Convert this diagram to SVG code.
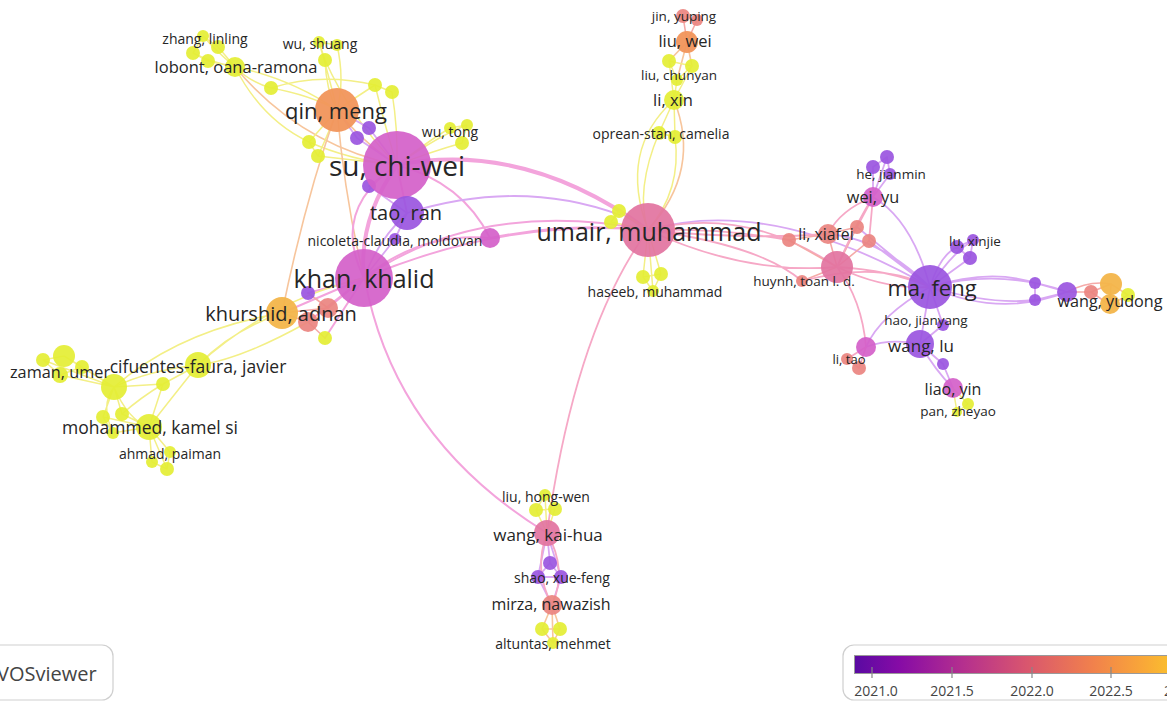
<svg xmlns="http://www.w3.org/2000/svg" width="1167" height="702" viewBox="0 0 1167 702">
<defs>
<style>
.e{fill:none;stroke-linecap:round}
.ey{stroke:#f3ef86;stroke-width:1.5}
.eo{stroke:#f7c59c;stroke-width:1.6}
.ep{stroke:#f3a4dc;stroke-width:2}
.ek{stroke:#f6a8c6;stroke-width:1.8}
.eu{stroke:#d9a8f3;stroke-width:1.8}
.es{stroke:#f5aaa8;stroke-width:1.6}
.th{stroke-width:4}
.Y{fill:#e4ee34;opacity:.92}
.P{fill:#9a55df;opacity:.92}
.M{fill:#d45fc9;opacity:.92}
.K{fill:#e2739f;opacity:.92}
.S{fill:#ea8480;opacity:.92}
.O{fill:#f1955b;opacity:.95}
.A{fill:#f3b54a;opacity:.95}
text{font-family:"Open Sans","Noto Sans","Liberation Sans",sans-serif;fill:#262626;text-anchor:middle;dominant-baseline:central}
.leg{fill:#fff;stroke:#cfcfcf;stroke-width:1.2}
.tick{stroke:#888;stroke-width:1.2}
.lt{font-size:14px;fill:#444}
</style>
<linearGradient id="plasma" x1="855" y1="0" x2="1195" y2="0" gradientUnits="userSpaceOnUse">
<stop offset="0" stop-color="#5a0aa2"/>
<stop offset="0.13" stop-color="#860ba6"/>
<stop offset="0.32" stop-color="#b5308e"/>
<stop offset="0.5" stop-color="#d8556f"/>
<stop offset="0.7" stop-color="#f1814c"/>
<stop offset="0.85" stop-color="#f9a838"/>
<stop offset="1" stop-color="#fbd425"/>
</linearGradient>
</defs>
<rect width="1167" height="702" fill="#fff"/>
<g id="connectors">
<!-- top-left yellow -->
<path class="e ey" d="M203,36 Q215,50 235,67 M193,53 Q210,62 235,67 M218,47 Q225,55 235,67 M208,61 L235,67 M203,36 L193,53 M203,36 L218,47 M193,53 L208,61"/>
<path class="e ey" d="M235,67 Q290,78 337,110 M235,67 Q250,82 271,88 M235,67 Q262,120 309,142 M271,88 Q320,72 375,85 M271,88 Q310,95 337,110"/>
<path class="e eo" d="M235,67 Q300,145 397,165"/>
<path class="e ey" d="M319,42 Q330,80 337,110 M337,45 Q345,80 337,110 M325,60 Q326,90 337,110 M325,60 Q352,120 397,165 M319,42 L337,45 M319,42 L325,60"/>
<path class="e ey" d="M375,85 Q358,96 337,110 M392,92 Q398,130 397,165 M375,85 Q386,130 397,165 M375,85 L392,92"/>
<path class="e ey" d="M450,128 Q430,140 397,165 M467,125 Q440,135 397,165 M462,143 Q430,152 397,165 M450,128 L467,125 M467,125 L462,143"/>
<path class="e ey" d="M309,142 L337,110 M318,156 Q330,130 337,110 M309,142 Q350,160 397,165 M318,156 L397,165 M309,142 L318,156"/>
<path class="e eo" d="M337,110 Q360,140 397,165 M337,110 Q305,200 282,313 M337,110 Q345,200 364,278"/>
<path class="e eu" d="M369,128 L397,165 M357,138 L397,165 M369,128 L337,110 M357,138 L337,110 M369,186 L397,165 M369,186 L407,213"/>
<path class="e ep th" d="M397,165 Q358,220 364,278"/>
<path class="e ep" d="M397,165 L407,213 M397,165 Q462,182 490,238 M364,278 Q420,232 490,238 M397,165 Q330,210 364,278"/>
<path class="e eu" d="M407,213 Q378,240 364,278 M407,213 Q520,178 620,215 M395,239 L407,213 M395,239 L364,278"/>
<path class="e ep th" d="M397,165 Q525,140 648,230"/>
<path class="e ep" d="M364,278 Q480,198 648,230 M364,278 Q505,218 648,230 M490,238 Q570,222 648,230"/>
<path class="e ep" d="M365,280 Q395,440 547,533"/>
<path class="e ek" d="M648,230 Q575,330 547,533"/>
<!-- khurshid area -->
<path class="e ep" d="M364,278 L282,313 M364,278 L328,308 M364,278 L308,322 M364,278 L308,293 M364,278 L325,338"/>
<path class="e es" d="M282,313 L328,308 M282,313 L308,322 M308,293 L328,308 M308,322 L325,338"/>
<path class="e ey" d="M364,278 Q270,300 198,365 M282,313 Q232,330 198,365 M282,313 Q180,330 114,387 M308,322 Q240,360 198,365"/>
<path class="e ey" d="M198,365 Q150,370 114,387 M198,365 L163,384 M163,384 L114,387 M163,384 L149,427 M198,365 Q170,400 149,427 M163,384 Q140,398 122,414"/>
<path class="e ey" d="M114,387 L64,356 M114,387 L43,360 M114,387 L82,367 M114,387 L60,375 M64,356 L43,360 M64,356 L82,367 M43,360 L60,375 M82,367 L60,375"/>
<path class="e ey" d="M114,387 Q128,420 149,427 M114,387 L103,417 M114,387 L122,414 M103,417 L149,427 M122,414 L149,427 M113,433 L149,427 M103,417 L113,433 M114,387 Q100,405 113,433"/>
<path class="e ey" d="M149,427 L170,452 M149,427 L152,462 M149,427 L167,469 M170,452 L167,469 M152,462 L167,469"/>
<!-- top middle -->
<path class="e es" d="M683,16 L687,42 M697,20 L687,42 M683,16 L697,20"/>
<path class="e eo" d="M687,42 L669,61 M687,42 L692,66 M687,42 L677,80"/>
<path class="e ey" d="M669,61 L674,100 M692,66 L674,100 M677,80 L674,100 M669,61 L692,66 M669,61 L677,80 M692,66 L677,80"/>
<path class="e ey" d="M674,100 L659,133 M674,100 L675,137 M659,133 L675,137 M659,133 Q635,190 648,230 M675,137 Q682,190 648,230 M674,100 Q618,150 648,230"/>
<path class="e eo" d="M674,100 Q702,170 648,230"/>
<path class="e ey" d="M648,230 L643,277 M648,230 L661,274 M648,230 L653,291 M643,277 L661,274 M643,277 L653,291 M661,274 L653,291 M648,230 L619,211 M648,230 L611,222 M619,211 L611,222"/>
<!-- umair to right -->
<path class="e eu" d="M648,230 Q770,195 930,287"/>
<path class="e ek" d="M648,230 Q745,205 837,267 M648,230 Q745,275 837,267 M648,230 Q720,228 789,240 M648,230 Q745,240 828,234 M648,230 Q760,245 802,281"/>
<!-- right cluster -->
<path class="e es" d="M837,267 L828,234 M837,267 L789,240 M837,267 L857,227 M837,267 L869,241 M837,267 L802,281 M789,240 L828,234 M828,234 L857,227"/>
<path class="e ek" d="M837,267 Q855,225 873,197 M837,267 Q862,300 866,347 M837,267 Q890,270 930,287 M837,267 Q885,290 930,287 M802,281 Q880,260 930,287"/>
<path class="e eu" d="M930,287 Q912,220 873,197 M873,197 L887,157 M873,197 L873,167 M873,197 L890,174 M887,157 L873,167 M887,157 L890,174"/>
<path class="e ek" d="M873,197 L857,227 M873,197 L869,241 M873,197 Q840,210 828,234"/>
<path class="e eu" d="M930,287 Q880,238 828,234 M930,287 L857,227 M930,287 L869,241"/>
<path class="e eu" d="M930,287 Q940,255 957,247 M930,287 Q950,255 973,240 M930,287 L970,258 M957,247 L973,240 M957,247 L970,258 M973,240 L970,258"/>
<path class="e eu" d="M930,287 Q990,268 1035,283 M930,287 Q990,305 1035,300 M930,287 Q1000,318 1067,292 M930,287 Q1000,268 1067,292 M1035,283 L1067,292 M1035,300 L1067,292 M1035,283 L1035,300"/>
<path class="e es" d="M1067,292 L1091,292 M1091,292 L1111,284 M1091,292 L1110,305 M1067,292 Q1090,280 1111,284"/>
<path class="e eo" d="M1111,284 L1110,305 M1111,284 L1128,295 M1110,305 L1128,295"/>
<path class="e eu" d="M930,287 L920,344 M930,287 L943,325 M943,325 L920,344 M920,344 Q890,338 866,347 M930,287 Q880,315 866,347 M920,344 L943,364 M943,364 L953,388 M920,344 Q935,370 953,388"/>
<path class="e ek" d="M866,347 L847,359 M866,347 L859,368 M847,359 L859,368"/>
<path class="e ey" d="M953,388 L968,404 M953,388 L957,412 M968,404 L957,412"/>
<!-- bottom -->
<path class="e ey" d="M545,495 L536,510 M545,495 L555,509 M536,510 L555,509 M536,510 L547,533 M555,509 L547,533 M545,495 L547,533"/>
<path class="e eu" d="M547,533 L550,563 M550,563 L538,577 M550,563 L561,577 M538,577 L561,577 M538,577 L552,605 M561,577 L552,605 M547,533 L538,577 M547,533 L561,577"/>
<path class="e ek" d="M547,533 Q533,570 552,605 M547,533 Q568,570 552,605"/>
<path class="e eo" d="M552,605 L542,629 M552,605 L560,629 M552,605 L553,643 M542,629 L560,629 M542,629 L553,643 M560,629 L553,643"/>
</g>
<!-- unlabeled nodes -->
<g id="n-y2"><circle class="Y" cx="193" cy="53" r="7"/></g>
<g id="n-y3"><circle class="Y" cx="218" cy="47" r="7"/></g>
<g id="n-y4"><circle class="Y" cx="208" cy="61" r="7"/></g>
<g id="n-y6"><circle class="Y" cx="337" cy="45" r="6"/></g>
<g id="n-y7"><circle class="Y" cx="325" cy="60" r="7"/></g>
<g id="n-y8"><circle class="Y" cx="271" cy="88" r="7"/></g>
<g id="n-y9"><circle class="Y" cx="375" cy="85" r="7"/></g>
<g id="n-y10"><circle class="Y" cx="392" cy="92" r="7"/></g>
<g id="n-p1"><circle class="P" cx="369" cy="128" r="7"/></g>
<g id="n-p2"><circle class="P" cx="357" cy="138" r="7"/></g>
<g id="n-y11"><circle class="Y" cx="309" cy="142" r="7"/></g>
<g id="n-y12"><circle class="Y" cx="318" cy="156" r="7"/></g>
<g id="n-y14"><circle class="Y" cx="467" cy="125" r="6"/></g>
<g id="n-y15"><circle class="Y" cx="462" cy="143" r="7"/></g>
<g id="n-p3"><circle class="P" cx="369" cy="186" r="7"/></g>
<g id="n-m1"><circle class="M" cx="490" cy="238" r="10"/></g>
<g id="n-p5"><circle class="P" cx="308" cy="293" r="7"/></g>
<g id="n-s1"><circle class="S" cx="328" cy="308" r="10"/></g>
<g id="n-s2"><circle class="S" cx="308" cy="322" r="10"/></g>
<g id="n-y16"><circle class="Y" cx="325" cy="338" r="7"/></g>
<g id="n-y17"><circle class="Y" cx="64" cy="356" r="11"/></g>
<g id="n-y18"><circle class="Y" cx="43" cy="360" r="7"/></g>
<g id="n-y19"><circle class="Y" cx="82" cy="367" r="7"/></g>
<g id="n-y20"><circle class="Y" cx="114" cy="387" r="13"/></g>
<g id="n-y21"><circle class="Y" cx="163" cy="384" r="7"/></g>
<g id="n-y22"><circle class="Y" cx="103" cy="417" r="7"/></g>
<g id="n-y23"><circle class="Y" cx="122" cy="414" r="7"/></g>
<g id="n-y24"><circle class="Y" cx="113" cy="433" r="6"/></g>
<g id="n-y25"><circle class="Y" cx="152" cy="462" r="6"/></g>
<g id="n-y26"><circle class="Y" cx="167" cy="469" r="7"/></g>
<g id="n-s4"><circle class="S" cx="697" cy="20" r="6"/></g>
<g id="n-y27"><circle class="Y" cx="669" cy="61" r="7"/></g>
<g id="n-y28"><circle class="Y" cx="692" cy="66" r="7"/></g>
<g id="n-y30"><circle class="Y" cx="675" cy="137" r="7"/></g>
<g id="n-y31"><circle class="Y" cx="619" cy="211" r="7"/></g>
<g id="n-y32"><circle class="Y" cx="611" cy="222" r="7"/></g>
<g id="n-y33"><circle class="Y" cx="643" cy="277" r="7"/></g>
<g id="n-y34"><circle class="Y" cx="661" cy="274" r="7"/></g>
<g id="n-s5"><circle class="S" cx="789" cy="240" r="7"/></g>
<g id="n-s6"><circle class="S" cx="857" cy="227" r="7"/></g>
<g id="n-s7"><circle class="S" cx="869" cy="241" r="7"/></g>
<g id="n-k1"><circle class="K" cx="837" cy="267" r="16"/></g>
<g id="n-p6"><circle class="P" cx="887" cy="157" r="7"/></g>
<g id="n-p7"><circle class="P" cx="873" cy="167" r="7"/></g>
<g id="n-p8"><circle class="P" cx="957" cy="247" r="7"/></g>
<g id="n-p9"><circle class="P" cx="970" cy="258" r="7"/></g>
<g id="n-p10"><circle class="P" cx="1035" cy="283" r="6"/></g>
<g id="n-p11"><circle class="P" cx="1035" cy="300" r="6"/></g>
<g id="n-p12"><circle class="P" cx="1067" cy="292" r="10"/></g>
<g id="n-s8"><circle class="S" cx="1091" cy="292" r="7"/></g>
<g id="n-o1"><circle class="A" cx="1111" cy="284" r="11"/></g>
<g id="n-y35"><circle class="Y" cx="1128" cy="295" r="7"/></g>
<g id="n-p13"><circle class="P" cx="943" cy="364" r="6"/></g>
<g id="n-s9"><circle class="S" cx="859" cy="368" r="7"/></g>
<g id="n-m2"><circle class="M" cx="866" cy="347" r="10"/></g>
<g id="n-y36"><circle class="Y" cx="968" cy="404" r="6"/></g>
<g id="n-y37"><circle class="Y" cx="536" cy="510" r="7"/></g>
<g id="n-y38"><circle class="Y" cx="555" cy="509" r="7"/></g>
<g id="n-p14"><circle class="P" cx="550" cy="563" r="7"/></g>
<g id="n-p16"><circle class="P" cx="538" cy="577" r="7"/></g>
<g id="n-y39"><circle class="Y" cx="542" cy="629" r="7"/></g>
<g id="n-y40"><circle class="Y" cx="560" cy="629" r="7"/></g>
<!-- labeled nodes, biggest first -->
<g id="n-su-chi-wei"><circle class="M" cx="397" cy="165" r="34"/><text x="397" y="165" font-size="28">su, chi-wei</text></g>
<g id="n-khan-khalid"><circle class="M" cx="364" cy="278" r="29"/><text x="364" y="278" font-size="25">khan, khalid</text></g>
<g id="n-umair-muhammad"><circle class="K" cx="648" cy="230" r="27"/><text x="649" y="231" font-size="25">umair, muhammad</text></g>
<g id="n-qin-meng"><circle class="O" cx="337" cy="110" r="22"/><text x="336" y="110" font-size="22">qin, meng</text></g>
<g id="n-ma-feng"><circle class="P" cx="930" cy="287" r="22"/><text x="932" y="287" font-size="22">ma, feng</text></g>
<g id="n-tao-ran"><circle class="P" cx="407" cy="213" r="17"/><text x="406" y="212" font-size="20">tao, ran</text></g>
<g id="n-khurshid-adnan"><circle class="A" cx="282" cy="313" r="16"/><text x="281" y="313" font-size="20">khurshid, adnan</text></g>
<g id="n-wang-lu"><circle class="P" cx="920" cy="344" r="14"/><text x="921" y="345" font-size="17">wang, lu</text></g>
<g id="n-cifuentes-faura-javier"><circle class="Y" cx="198" cy="365" r="13"/><text x="198" y="366" font-size="17.5">cifuentes-faura, javier</text></g>
<g id="n-mohammed-kamel-si"><circle class="Y" cx="149" cy="427" r="13"/><text x="150" y="427" font-size="17.5">mohammed, kamel si</text></g>
<g id="n-wang-kai-hua"><circle class="K" cx="547" cy="533" r="13"/><text x="548" y="534" font-size="17">wang, kai-hua</text></g>
<g id="n-wang-yudong"><circle class="A" cx="1110" cy="304" r="10"/><text x="1110" y="301" font-size="16.2">wang, yudong</text></g>
<g id="n-liu-wei"><circle class="O" cx="687" cy="42" r="11"/><text x="685" y="40" font-size="16.5">liu, wei</text></g>
<g id="n-li-xin"><circle class="Y" cx="674" cy="100" r="10"/><text x="673" y="99" font-size="16.5">li, xin</text></g>
<g id="n-lobont-oana-ramona"><circle class="Y" cx="235" cy="67" r="10"/><text x="236" y="66" font-size="16.5">lobont, oana-ramona</text></g>
<g id="n-li-xiafei"><circle class="S" cx="828" cy="234" r="10"/><text x="826" y="234" font-size="15.8">li, xiafei</text></g>
<g id="n-wei-yu"><circle class="M" cx="873" cy="197" r="10"/><text x="873" y="197" font-size="16.3">wei, yu</text></g>
<g id="n-liao-yin"><circle class="M" cx="953" cy="388" r="10"/><text x="953" y="389" font-size="16">liao, yin</text></g>
<g id="n-mirza-nawazish"><circle class="S" cx="552" cy="605" r="10"/><text x="551" y="604" font-size="16">mirza, nawazish</text></g>
<g id="n-zaman-umer"><circle class="Y" cx="60" cy="375" r="8"/><text x="60" y="372" font-size="16.3">zaman, umer</text></g>
<g id="n-zhang-linling"><circle class="Y" cx="203" cy="36" r="6"/><text x="205" y="38" font-size="14">zhang, linling</text></g>
<g id="n-wu-shuang"><circle class="Y" cx="319" cy="42" r="6"/><text x="320" y="43" font-size="14">wu, shuang</text></g>
<g id="n-wu-tong"><circle class="Y" cx="450" cy="128" r="6"/><text x="450" y="131" font-size="14">wu, tong</text></g>
<g id="n-nicoleta-claudia-moldovan"><circle class="P" cx="395" cy="239" r="6"/><text x="395" y="240" font-size="14">nicoleta-claudia, moldovan</text></g>
<g id="n-ahmad-paiman"><circle class="Y" cx="170" cy="452" r="6"/><text x="170" y="453" font-size="14">ahmad, paiman</text></g>
<g id="n-jin-yuping"><circle class="S" cx="683" cy="16" r="7"/><text x="684" y="16" font-size="13.5">jin, yuping</text></g>
<g id="n-liu-chunyan"><circle class="Y" cx="677" cy="80" r="6"/><text x="679" y="75" font-size="13.5">liu, chunyan</text></g>
<g id="n-oprean-stan-camelia"><circle class="Y" cx="659" cy="133" r="7"/><text x="661" y="133" font-size="14">oprean-stan, camelia</text></g>
<g id="n-haseeb-muhammad"><circle class="Y" cx="653" cy="291" r="6"/><text x="655" y="291" font-size="14">haseeb, muhammad</text></g>
<g id="n-he-jianmin"><circle class="P" cx="890" cy="174" r="6"/><text x="891" y="174" font-size="13.5">he, jianmin</text></g>
<g id="n-lu-xinjie"><circle class="P" cx="973" cy="240" r="6"/><text x="975" y="241" font-size="13.5">lu, xinjie</text></g>
<g id="n-huynh-toan-l-d"><circle class="S" cx="802" cy="281" r="6"/><text x="804" y="281" font-size="13.5">huynh, toan l. d.</text></g>
<g id="n-hao-jianyang"><circle class="P" cx="943" cy="325" r="6"/><text x="926" y="320" font-size="13.5">hao, jianyang</text></g>
<g id="n-li-tao"><circle class="S" cx="847" cy="359" r="6"/><text x="849" y="359" font-size="13">li, tao</text></g>
<g id="n-pan-zheyao"><circle class="Y" cx="957" cy="412" r="5"/><text x="958" y="411" font-size="13.5">pan, zheyao</text></g>
<g id="n-liu-hong-wen"><circle class="Y" cx="545" cy="495" r="6"/><text x="546" y="496" font-size="14">liu, hong-wen</text></g>
<g id="n-shao-xue-feng"><circle class="P" cx="561" cy="577" r="7"/><text x="562" y="577" font-size="14">shao, xue-feng</text></g>
<g id="n-altuntas-mehmet"><circle class="Y" cx="553" cy="643" r="6"/><text x="553" y="643" font-size="14">altuntas, mehmet</text></g>
<!-- legends -->
<g id="logo">
<rect class="leg" x="-20" y="645" width="133" height="55" rx="11"/>
<text x="-3" y="673" font-size="20" style="text-anchor:start;fill:#444">VOSviewer</text>
</g>
<g id="colorbar">
<rect class="leg" x="843" y="645" width="340" height="55" rx="11"/>
<rect x="854.5" y="655.5" width="330" height="18" fill="url(#plasma)" stroke="#9a9a9a" stroke-width="1"/>
<line class="tick" x1="872" y1="667" x2="872" y2="678"/>
<line class="tick" x1="952" y1="667" x2="952" y2="678"/>
<line class="tick" x1="1032" y1="667" x2="1032" y2="678"/>
<line class="tick" x1="1111" y1="667" x2="1111" y2="678"/>
<text class="lt" x="876" y="690">2021.0</text>
<text class="lt" x="952" y="690">2021.5</text>
<text class="lt" x="1032" y="690">2022.0</text>
<text class="lt" x="1111" y="690">2022.5</text>
<text class="lt" x="1164" y="690" style="text-anchor:start">2023.0</text>
</g>
</svg>
